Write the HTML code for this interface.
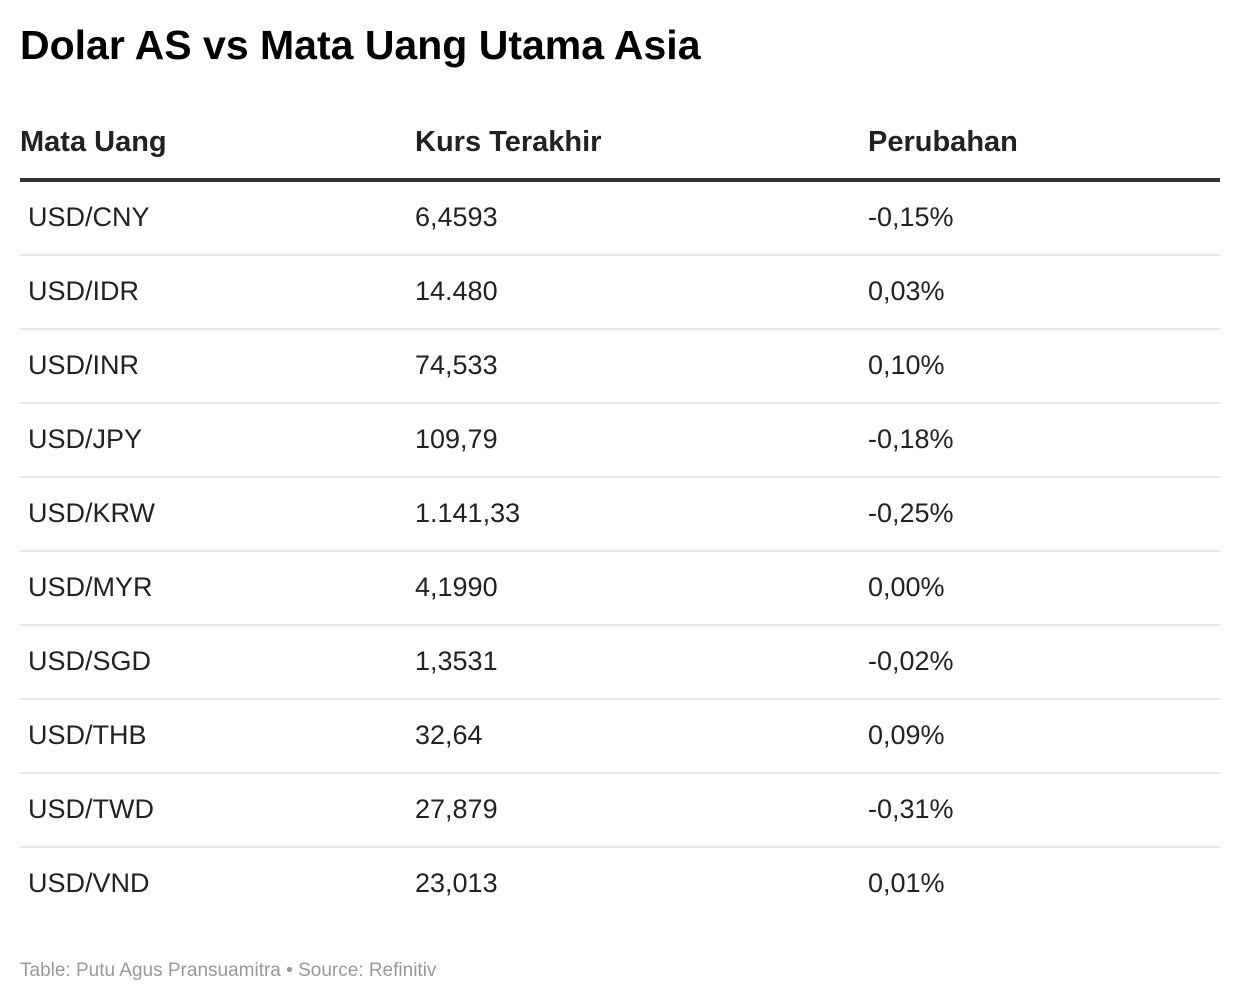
<!DOCTYPE html>
<html><head><meta charset="utf-8"><style>
body{margin:0;width:1240px;height:1006px;background:#fff;font-family:"Liberation Sans",sans-serif;color:#1a1a1a;position:relative;overflow:hidden}
.a{position:absolute;white-space:nowrap}
.t{left:20px;top:22px;font-size:41px;font-weight:bold;color:#000}
.h{top:126px;font-size:29px;font-weight:bold;color:#222}
.r{font-size:27px;color:#222}
.sep{position:absolute;left:20px;width:1200px;height:2px;background:#e6e6e6}
.foot{left:20px;top:960px;font-size:19px;color:#999}
</style></head><body>
<div class="a t">Dolar AS vs Mata Uang Utama Asia</div>
<div class="a h" style="left:20px">Mata Uang</div>
<div class="a h" style="left:415px">Kurs Terakhir</div>
<div class="a h" style="left:868px">Perubahan</div>
<div class="a" style="left:20px;top:178px;width:1200px;height:4px;background:#333"></div>
<div id="rows"></div>
<div class="a foot">Table: Putu Agus Pransuamitra • Source: Refinitiv</div>
<script>
const pairs=["USD/CNY","USD/IDR","USD/INR","USD/JPY","USD/KRW","USD/MYR","USD/SGD","USD/THB","USD/TWD","USD/VND"];
const rates=["6,4593","14.480","74,533","109,79","1.141,33","4,1990","1,3531","32,64","27,879","23,013"];
const changes=["-0,15%","0,03%","0,10%","-0,18%","-0,25%","0,00%","-0,02%","0,09%","-0,31%","0,01%"];
const c=document.getElementById('rows');
pairs.forEach((p,i)=>{
  const y=182+i*74;
  [[p,28,'pair'],[rates[i],415,'rate'],[changes[i],868,'change']].forEach(([txt,x,n])=>{
    const d=document.createElement('div');
    d.className='a r';
    d.style.left=x+'px';d.style.top=(y+20)+'px';
    d.textContent=txt;
    
    
    c.appendChild(d);
  });
  if(i<pairs.length-1){
    const s=document.createElement('div');
    s.className='sep';s.style.top=(y+72)+'px';
    
    
    c.appendChild(s);
  }
});
</script>
</body></html>
